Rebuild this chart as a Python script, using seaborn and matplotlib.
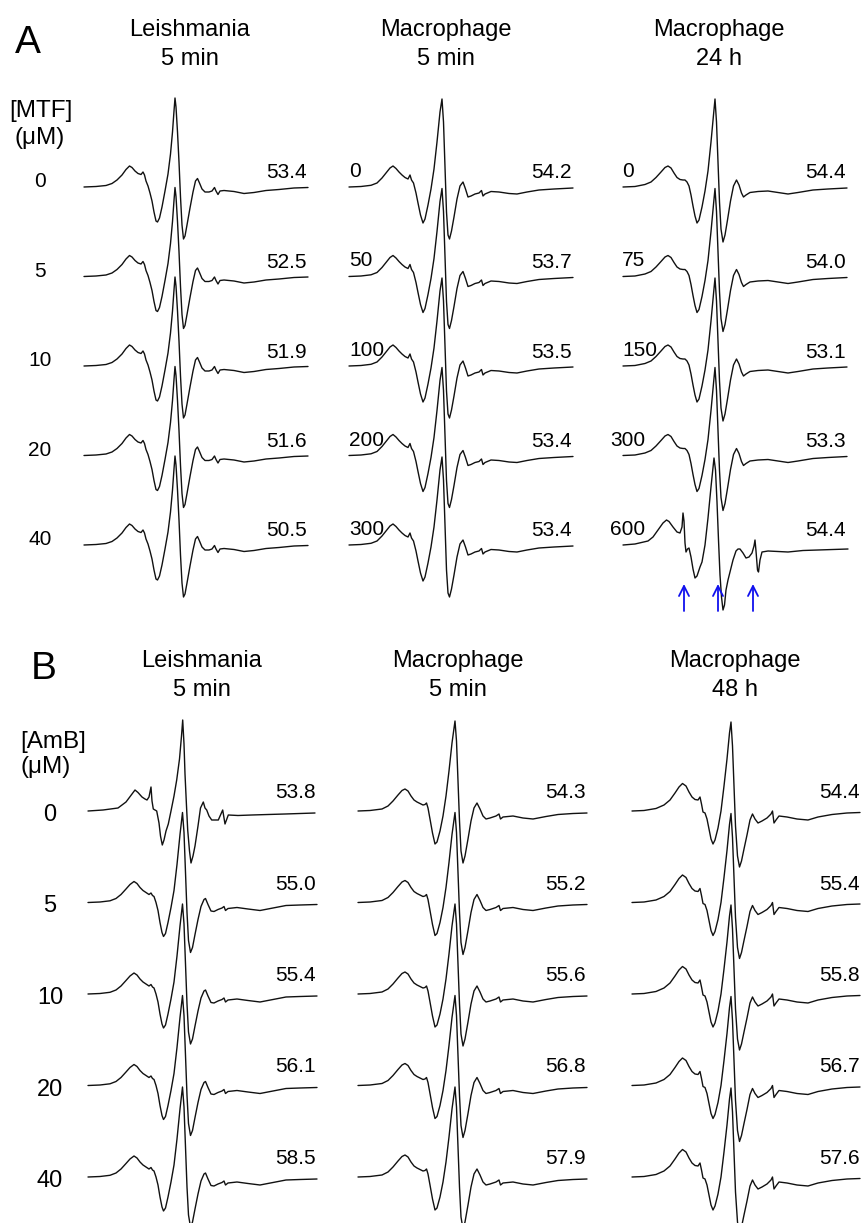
import matplotlib
matplotlib.use("Agg")
import matplotlib.pyplot as plt
import numpy as np
import pandas as pd
import seaborn as sns

sns.set_theme(style="white")
plt.rcParams["font.family"] = ["Liberation Sans", "DejaVu Sans"]
plt.rcParams["text.color"] = "black"

# ---------------- data (relative field offset, signal amplitude) ----------------
# Panel A, Leishmania 5 min (MTF)
A1_FIELD = [0, 12, 22, 28, 33, 38, 42, 45.5, 48, 51, 54, 57, 59, 60.5, 62, 64, 66, 68, 70, 72, 73.5,
            75.5, 78, 81, 84, 86.5, 88.5, 90, 91, 92, 93.5, 95, 96.5, 98, 99.5, 101, 103, 106, 109,
            111.5, 113.5, 115.5, 118, 121, 125, 128, 130.5, 132, 134, 136, 140, 150, 160, 170, 182,
            195, 210, 224]
A1_SIGNAL = [0, 0.5, 1.5, 3.5, 7, 12, 17.5, 21, 19.5, 16, 13.5, 12.5, 15, 12, 6, 1, -6, -14, -25, -34,
             -35, -31, -20, -4, 13, 33, 55, 76, 89, 80, 55, 25, -10, -38, -52, -49, -38, -21, -5,
             6, 8.5, 4, -2, -5, -5, -4, -0.5, -4, -7.5, -4, -3.5, -4.5, -6.5, -5.5, -3.5,
             -2.5, -1, -0.5]

# Panel A, Macrophage 5 min (MTF)
A2_FIELD = [0, 12, 22, 28, 33, 37, 41, 44, 47, 50, 53, 56, 59, 61, 62.5, 64.5, 67, 69, 71.5, 74, 76,
            79, 82, 85, 88, 91, 93, 94.5, 96, 97.5, 99, 100.5, 102.5, 105, 108, 111, 114, 116.5,
            119, 122, 126, 130, 132.5, 134, 136, 142, 150, 160, 168, 178, 190, 205, 224]
A2_SIGNAL = [0, 0.5, 1.7, 4, 9, 14, 19, 21, 18.5, 15, 12, 9.5, 8, 12, 7, 4, -6, -16, -28, -36, -32,
             -18, -2, 18, 45, 75, 88, 65, 20, -25, -48, -52, -44, -30, -12, 1, 5, -2,
             -10, -9, -7, -6, -3.5, -9, -7, -4.5, -5, -6.5, -7, -5, -3, -2, -1]

# Panel A, Macrophage 24 h (MTF 0-300 uM)
A3_FIELD = [0, 12, 22, 28, 33, 38, 42, 45, 48, 51, 54, 57, 60, 62, 64, 66, 68, 70, 72, 74, 76, 79,
            82, 85, 88, 90.5, 92, 93.5, 95, 96.5, 98, 100, 102, 104.5, 107.5, 110.5, 113.5, 116,
            118.5, 120.5, 123, 127, 135, 145, 155, 165, 175, 190, 205, 224]
A3_SIGNAL = [0, 0.5, 2.5, 5, 9.5, 15, 19.5, 21, 19, 14, 9.5, 7.5, 7, 7, 5, 1, -8, -19, -29, -36, -33,
             -20, -4, 16, 45, 72, 88, 65, 25, -15, -42, -55, -48, -33, -14, 1, 7, 2,
             -6, -10, -8, -5.5, -4.5, -4, -5.5, -7, -5.5, -3, -2, -1]

# Panel A, Macrophage 24 h, 600 uM MTF
A3X_FIELD = [0, 12, 25, 30, 35, 40, 43.5, 46, 50, 54, 57, 59, 60, 61, 62, 63, 64.5, 66, 68, 70, 72,
             74, 77, 79, 82, 85, 88, 91, 92.5, 94, 95.5, 97, 98.5, 100, 101.5, 103, 105, 107, 110,
             113, 115, 117, 120, 123, 126, 129, 131, 132, 133, 134.5, 135.5, 137, 139, 145, 155,
             165, 180, 195, 210, 225]
A3X_SIGNAL = [0, 1, 4, 8, 15, 22, 25, 23.5, 18, 13, 12, 18, 32, 24, 2, -7, -4, -3, -12, -24, -33,
              -31, -22, -17, 0, 27, 58, 87, 75, 43, 5, -30, -52, -65, -60, -45, -35, -27, -15,
              -6, -4, -4, -8, -13, -12, -8, -1, 5, -6, -25, -27, -15, -7, -6, -6.5,
              -7, -5.5, -5, -4.5, -4]

# Panel B, Leishmania 5 min (AmB 0 uM)
B1Z_FIELD = [0, 15, 30, 38, 44, 47, 50, 54, 57, 59, 61, 63, 64, 65.3, 67, 68.7, 71, 72.5, 74.3, 76,
             78, 80.3, 83, 86, 88.7, 91.5, 93.5, 94.7, 96, 97, 98.5, 99.7, 101.5, 103, 105, 107,
             110, 112.5, 115.3, 117, 118.7, 121, 123.7, 127, 130.3, 132.5, 134.7, 137, 140.3,
             150, 163.7, 180, 197, 212, 227]
B1Z_SIGNAL = [0, 1, 3, 9, 17, 21, 18.5, 14, 12, 11, 14, 24, 10, 2, 1, 0, -12, -25, -34, -29,
              -20, -13, 0, 15, 31, 52, 75, 91, 67, 37, 5, -19, -40, -52, -45, -35,
              -15, 3, 9, 3, 1, -5, -9, -9, -9, -4, 1, -13, -4,
              -4.5, -4, -3.5, -3, -2.5, -2]

# Panel B, Leishmania 5 min (AmB 5-40 uM)
B1_FIELD = [0, 12, 22, 28, 33, 38, 42, 46, 49, 52, 55, 58, 61, 63, 64.5, 66, 68, 70, 72, 74, 75.5,
            77.5, 80, 83, 86, 89, 92, 94.5, 96, 97.5, 99, 100.5, 102.5, 104.5, 107, 110, 113, 116,
            117.5, 120, 123, 126, 130, 134, 136, 137.5, 140, 149, 160, 172, 185, 198, 212, 229]
B1_SIGNAL = [0, 0.5, 1.7, 4, 8, 13.5, 18, 21, 19, 15, 12, 10, 8, 9.5, 7, 6, 0, -8, -20, -30, -34,
             -31, -20, -5, 12, 38, 68, 90, 70, 30, -10, -38, -50, -45, -32, -17, -4, 3,
             4, -2, -8.5, -9, -7, -5.5, -4, -8, -6, -5, -6.5, -8, -5.5, -3, -2.5, -2]

# Panel B, Macrophage 5 min (AmB)
B2_FIELD = [0, 12, 24, 30, 35, 40, 44, 47, 50, 53, 56, 59, 62, 65, 67, 68.5, 70, 72, 74.5, 77, 79,
            82, 85, 88, 91, 94, 97, 98.5, 100, 101.5, 103, 105, 107, 110, 113, 116, 119, 122, 125,
            128, 132, 138, 141, 142.5, 145, 155, 165, 175, 188, 200, 215, 229]
B2_SIGNAL = [0, 0.5, 2, 5, 10, 16, 20.5, 22, 20, 15, 11, 9, 7.5, 6, 6.5, 8, 3, -8, -22, -33, -31,
             -20, -5, 15, 40, 68, 90, 70, 30, -10, -40, -52, -45, -28, -10, 3, 8, 2, -5,
             -8, -7, -5, -3, -8, -6, -5, -7, -8, -5.5, -3.5, -2.5, -2]

# Panel B, Macrophage 48 h (AmB)
B3_FIELD = [0, 12, 24, 32, 38, 43, 47, 50.5, 54, 57, 60, 63, 66, 68, 69.5, 71, 73, 75, 77, 79, 81,
            83, 86, 89, 92, 95, 97.5, 99, 100.5, 102, 103.5, 105.5, 107.5, 109.5, 112, 115, 118,
            120.5, 123, 126, 130, 135, 139, 140.5, 142, 144, 147, 155, 165, 176, 186, 200, 215, 228]
B3_SIGNAL = [0, 0.5, 2.5, 6, 11, 18, 24, 27.5, 25, 19, 14, 11.5, 11, 14, 7, -1, -2, -8, -18, -28, -33,
             -29, -17, 0, 25, 52, 78, 89, 65, 25, -15, -45, -56, -50, -38, -24, -9,
             -3, -8, -12, -10, -7, -3, 0, -12, -9, -5, -6, -8, -9, -6, -3.5, -2, -1.5]

TEMPLATES = {
    "A1": (A1_FIELD, A1_SIGNAL), "A2": (A2_FIELD, A2_SIGNAL),
    "A3": (A3_FIELD, A3_SIGNAL), "A3X": (A3X_FIELD, A3X_SIGNAL),
    "B1Z": (B1Z_FIELD, B1Z_SIGNAL), "B1": (B1_FIELD, B1_SIGNAL),
    "B2": (B2_FIELD, B2_SIGNAL), "B3": (B3_FIELD, B3_SIGNAL),
}

SPECTRA_A = [["A1"] * 5, ["A2"] * 5, ["A3"] * 4 + ["A3X"]]
SPECTRA_B = [["B1Z"] + ["B1"] * 4, ["B2"] * 5, ["B3"] * 5]

TITLES_A = ["Leishmania\n5 min", "Macrophage\n5 min", "Macrophage\n24 h"]
TITLES_B = ["Leishmania\n5 min", "Macrophage\n5 min", "Macrophage\n48 h"]

CONC_A = ["0", "5", "10", "20", "40"]          # [MTF] (uM), Leishmania 5 min
CONC_A_MAC5 = ["0", "50", "100", "200", "300"]  # Macrophage 5 min
CONC_A_MAC24 = ["0", "75", "150", "300", "600"] # Macrophage 24 h
CONC_B = ["0", "5", "10", "20", "40"]           # [AmB] (uM)

VALUES_A = [["53.4", "52.5", "51.9", "51.6", "50.5"],
            ["54.2", "53.7", "53.5", "53.4", "53.4"],
            ["54.4", "54.0", "53.1", "53.3", "54.4"]]
VALUES_B = [["53.8", "55.0", "55.4", "56.1", "58.5"],
            ["54.3", "55.2", "55.6", "56.8", "57.9"],
            ["54.4", "55.4", "55.8", "56.7", "57.6"]]

ARROW_FIELD = [61, 95, 130]   # features marked in Macrophage 24 h, 600 uM

# ---------------- layout (pixels) ----------------
W, H = 867, 1223
fig = plt.figure(figsize=(W / 100, H / 100), dpi=100)
LINE_COLOR = "#111111"

PANELS = [
    dict(spectra=SPECTRA_A, values=VALUES_A, titles=TITLES_A, x0=[84, 349, 623], width=224,
         base=187, gap=89.5, ylim=(-440, 100), val_dy=8.5, title_x=[190, 446, 719],
         title_y=(36, 65)),
    dict(spectra=SPECTRA_B, values=VALUES_B, titles=TITLES_B, x0=[88, 358, 632], width=229,
         base=811, gap=91.5, ylim=(-412, 100), val_dy=13, title_x=[202, 458, 735],
         title_y=(667, 696)),
]

rows = []
for p, P in enumerate(PANELS):
    for c, col in enumerate(P["spectra"]):
        for r, tname in enumerate(col):
            f, s = TEMPLATES[tname]
            for fi, si in zip(f, s):
                rows.append(dict(panel=p, col=c, row=r, field=fi, signal=si,
                                 y=si - r * P["gap"]))
df = pd.DataFrame(rows)


def ftext(x, y, s, **kw):
    fig.text(x / W, 1 - y / H, s, color="black", **kw)


axes = {}
for p, P in enumerate(PANELS):
    ymin, ymax = P["ylim"]
    top_px = P["base"] - ymax
    h_px = ymax - ymin
    for c in range(3):
        ax = fig.add_axes([P["x0"][c] / W, 1 - (top_px + h_px) / H, P["width"] / W, h_px / H])
        sub = df[(df.panel == p) & (df.col == c)]
        sns.lineplot(data=sub, x="field", y="y", units="row", estimator=None, sort=False,
                     color=LINE_COLOR, linewidth=1.0, ax=ax, legend=False)
        ax.set_xlim(0, P["width"])
        ax.set_ylim(ymin, ymax)
        ax.set_axis_off()
        for line in ax.lines:
            line.set_clip_on(False)
        for r, v in enumerate(P["values"][c]):
            ax.text(P["width"] - 1, -r * P["gap"] + P["val_dy"], v, ha="right",
                    va="baseline", fontsize=15, color="black")
        axes[(p, c)] = ax
        # column titles
        t1, t2 = P["titles"][c].split("\n")
        ftext(P["title_x"][c], P["title_y"][0], t1, ha="center", va="baseline", fontsize=17)
        ftext(P["title_x"][c], P["title_y"][1], t2, ha="center", va="baseline", fontsize=17)

# Concentration labels panel A, columns 2 and 3
gapA = PANELS[0]["gap"]
for r, lab in enumerate(CONC_A_MAC5):
    axes[(0, 1)].text(0, -r * gapA + 10, lab, ha="left", va="baseline", fontsize=15,
                      color="black")
for r, lab in enumerate(CONC_A_MAC24):
    dx = -1 if r < 3 else -13
    axes[(0, 2)].text(dx, -r * gapA + 10, lab, ha="left", va="baseline", fontsize=15,
                      color="black")

# Arrows in Macrophage 24 h, 600 uM
axA3 = axes[(0, 2)]
for xf in ARROW_FIELD:
    axA3.annotate("", xy=(xf, -4 * gapA - 39), xytext=(xf, -4 * gapA - 66),
                  arrowprops=dict(arrowstyle="->,head_length=0.6,head_width=0.3",
                                  color="#1010ee", lw=1.3, shrinkA=0, shrinkB=0),
                  annotation_clip=False)

# Row labels (concentrations) column 1
for r, lab in enumerate(CONC_A):
    ftext(40, PANELS[0]["base"] + r * gapA, lab, ha="center", va="baseline", fontsize=15)
gapB = PANELS[1]["gap"]
for r, lab in enumerate(CONC_B):
    ftext(50, PANELS[1]["base"] + r * gapB + 10, lab, ha="center", va="baseline", fontsize=17)

# Panel letters and axis-quantity labels
ftext(15, 53, "A", ha="left", va="baseline", fontsize=28)
ftext(31, 679, "B", ha="left", va="baseline", fontsize=28)
ftext(41, 117, "[MTF]", ha="center", va="baseline", fontsize=17.5)
ftext(40, 144, "(μM)", ha="center", va="baseline", fontsize=17.5)
ftext(53, 748, "[AmB]", ha="center", va="baseline", fontsize=17.5)
ftext(46, 773, "(μM)", ha="center", va="baseline", fontsize=17.5)

fig.savefig("out.png", dpi=100, facecolor="white")
